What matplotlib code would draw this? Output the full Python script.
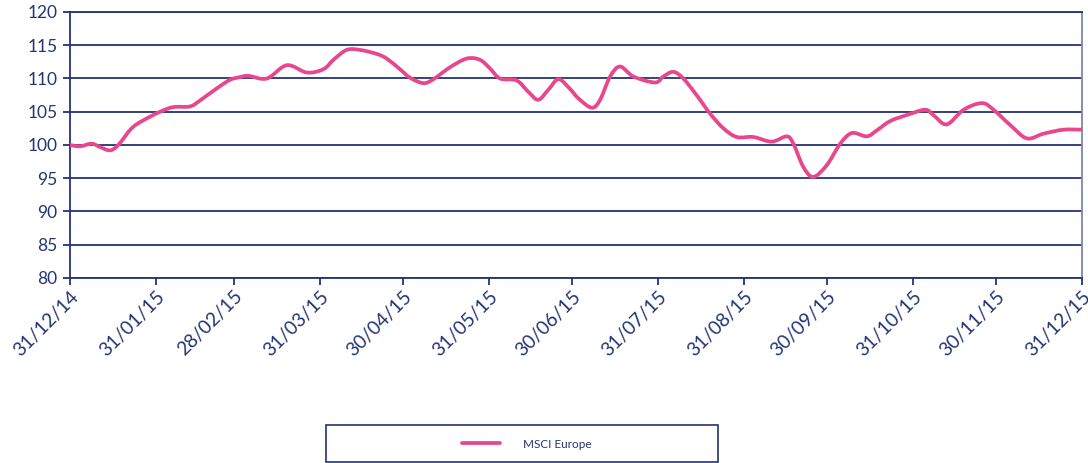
import numpy as np
import pandas as pd
import matplotlib
matplotlib.use("Agg")
import matplotlib.pyplot as plt
import matplotlib.dates as mdates
from matplotlib.patches import Rectangle, PathPatch
from matplotlib.path import Path
from matplotlib.lines import Line2D

# valores (días desde 31/12/14, índice)
dias = [0, 3.6, 7.8, 10.8, 14.4, 17.4, 22.2, 26.4, 32.5, 37.3, 43.3, 46.9, 52.9,
        57.7, 61.3, 64.3, 71, 78.2, 85.4, 91.4, 95, 99.8, 104.6, 110.6, 114.2,
        119, 122.7, 127.5, 131.1, 137.1, 143.1, 147.9, 151.5, 155.1, 161.1,
        165.3, 168.9, 172.5, 176.2, 180.4, 183.4, 188.2, 191.2, 194.8, 198.4,
        203.2, 211, 214, 217.6, 221.2, 226, 230.9, 235.7, 240.5, 246.5, 253.1,
        258.5, 260.9, 264.5, 268.1, 273, 277.8, 282, 287.4, 291, 295.8, 301.8,
        308.4, 311.4, 316.2, 322.3, 328.9, 333.1, 339.1, 345.1, 351.1, 358.3, 365]
msci = [100.0, 99.8, 100.2, 99.7, 99.2, 100.0, 102.5, 103.7, 105.0, 105.7, 105.8,
        106.7, 108.5, 109.8, 110.2, 110.4, 110.0, 112.0, 110.9, 111.4, 112.8,
        114.3, 114.3, 113.7, 113.0, 111.4, 110.1, 109.3, 109.9, 111.7, 113.0,
        112.8, 111.5, 110.0, 109.7, 108.0, 106.8, 108.3, 109.9, 108.4, 107.0,
        105.6, 106.8, 110.3, 111.8, 110.3, 109.4, 110.3, 111.0, 110.0, 107.5,
        104.7, 102.5, 101.2, 101.2, 100.5, 101.3, 100.2, 96.7, 95.2, 97.0, 100.2,
        101.8, 101.3, 102.2, 103.6, 104.5, 105.3, 104.5, 103.1, 105.3, 106.3,
        105.3, 103.0, 101.0, 101.7, 102.3, 102.3]

fechas_ticks = ['2014-12-31', '2015-01-31', '2015-02-28', '2015-03-31', '2015-04-30',
                '2015-05-31', '2015-06-30', '2015-07-31', '2015-08-31', '2015-09-30',
                '2015-10-31', '2015-11-30', '2015-12-31']
etiquetas_x = ['31/12/14', '31/01/15', '28/02/15', '31/03/15', '30/04/15', '31/05/15',
               '30/06/15', '31/07/15', '31/08/15', '30/09/15', '31/10/15', '30/11/15',
               '31/12/15']
y_ticks = [80, 85, 90, 95, 100, 105, 110, 115, 120]

azul = '#233474'
rosa = '#E8478C'

plt.rcParams['font.family'] = ['Lato', 'DejaVu Sans']


def camino_suave(x, y):
    '''Línea suavizada tipo Excel: cada tramo es una Bezier cúbica
    que pasa por los puntos dados (Catmull-Rom).'''
    pts = np.column_stack([x, y])
    ext = np.vstack([pts[0], pts, pts[-1]])
    verts = [pts[0]]
    codes = [Path.MOVETO]
    for i in range(1, len(ext) - 2):
        p0, p1, p2, p3 = ext[i - 1], ext[i], ext[i + 1], ext[i + 2]
        verts += [p1 + (p2 - p0) / 6, p2 - (p3 - p1) / 6, p2]
        codes += [Path.CURVE4] * 3
    return Path(verts, codes)


inicio = pd.Timestamp('2014-12-31')
fechas = inicio + pd.to_timedelta(dias, unit='D')
x_num = mdates.date2num(fechas.to_pydatetime())

fig = plt.figure(figsize=(10.88, 4.63), dpi=100)
ax = fig.add_axes([70/1088, 1 - 278/463, 1012/1088, 266/463])

ax.add_patch(PathPatch(camino_suave(x_num, msci), facecolor='none', edgecolor=rosa,
                       lw=2.7, capstyle='round', joinstyle='round', zorder=3))

ax.set_ylim(80, 120)
ax.set_yticks(y_ticks)
ax.xaxis_date()
ax.set_xlim(pd.Timestamp('2014-12-31'), pd.Timestamp('2015-12-31'))
ax.set_xticks(pd.to_datetime(fechas_ticks))
ax.set_xticklabels(etiquetas_x, rotation=45, ha='right', rotation_mode='anchor')

ax.grid(axis='y', color=azul, lw=1.3)
ax.set_axisbelow(True)
for lado in ax.spines.values():
    lado.set_color(azul)
    lado.set_linewidth(1.3)
ax.spines['right'].set_color('#7d86b0')
ax.tick_params(axis='both', colors=azul, length=5, width=1.3)
ax.tick_params(axis='y', pad=4, labelsize=12.5)
ax.tick_params(axis='x', pad=2, labelsize=13.8)

# caja de la leyenda
fig.patches.append(Rectangle((326/1088, 1/463), 392/1088, 37/463, transform=fig.transFigure,
                             fill=False, edgecolor=azul, lw=1.2))
proxy = Line2D([], [], color=rosa, lw=2.7, solid_capstyle='round')
fig.legend(handles=[proxy], labels=['MSCI Europe'], loc='center',
           bbox_to_anchor=(527/1088, 19/463), frameon=False, fontsize=8.5,
           labelcolor=azul, handlelength=3.2, handletextpad=2.0)

fig.savefig('out.png', dpi=100)
